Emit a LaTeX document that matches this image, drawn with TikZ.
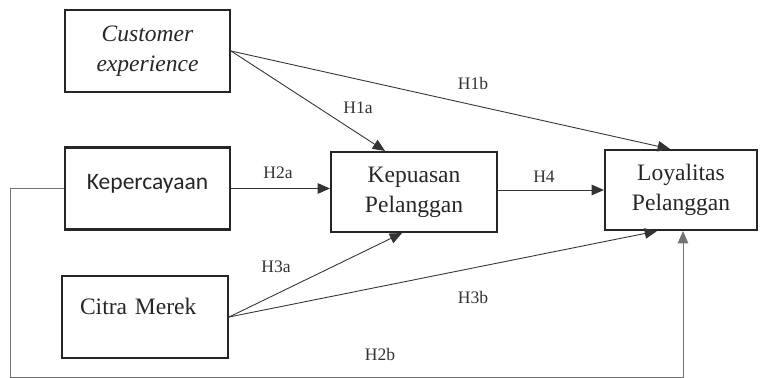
\documentclass[tikz,border=0pt]{standalone}
\usepackage{fontspec}
\setmainfont{Liberation Serif}
\newfontfamily\calibri{Carlito}
\usetikzlibrary{arrows.meta,calc}

\begin{document}
\begin{tikzpicture}[x=0.02cm, y=-0.02cm,
  >={Triangle[length=7pt,width=6pt]},
  box/.style={draw=black!85, line width=1.2pt, minimum width=3.3cm,
    minimum height=1.64cm, align=center, text=black!85,
    font=\fontsize{13.4}{17}\selectfont},
  link/.style={->, line width=0.5pt, draw=black!80},
  hyp/.style={text=black!80, font=\fontsize{10}{12}\selectfont}]
\useasboundingbox (0,0) rectangle (761,378);
\node [box, font=\fontsize{13.4}{17}\selectfont\itshape] (ce) at (147.5,51)
  {Customer\\experience};
\node [box, font=\calibri\fontsize{13.4}{17}\selectfont, text height=10pt,
  text depth=9pt] (kep) at (147.5,188.5) {Kepercayaan};
\node [box, minimum width=3.32cm, align=left, text width=2.6cm,
  text height=10pt, text depth=12.4pt] (citra) at (145,317) {Citra Merek};
\node [box, minimum width=3.32cm, minimum height=1.6cm] (kpu) at (414,192)
  {Kepuasan\\Pelanggan};
\node [box, minimum width=3.04cm, minimum height=1.6cm] (loy) at (681,190)
  {Loyalitas\\Pelanggan};
\coordinate (corner) at (10,377);
\draw [link] (ce.east) -- ($(kpu.north)+(-29,0)$);
\draw [link] (ce.east) -- ($(loy.north)+(-11,0)$);
\draw [link] (kep.east) -- (kep.east -| kpu.west);
\draw [link] (kpu.east |- loy.west) -- (loy.west);
\draw [link] (citra.east) -- ($(kpu.south)+(-12,0)$);
\draw [link] (citra.east) -- ($(loy.south)+(-24,0)$);
\draw [link, draw=black!55] (kep.west) -| (corner) -| ($(loy.south)+(2,0)$);
\node [hyp] (h1a) at (358,108) {H1a};
\node [hyp] (h1b) at (473,83) {H1b};
\node [hyp] (h2a) at (278,173) {H2a};
\node [hyp] (h4) at (544,177) {H4};
\node [hyp] (h3a) at (276,267) {H3a};
\node [hyp] (h3b) at (473,297) {H3b};
\node [hyp] (h2b) at (380,354) {H2b};
\end{tikzpicture}
\end{document}
